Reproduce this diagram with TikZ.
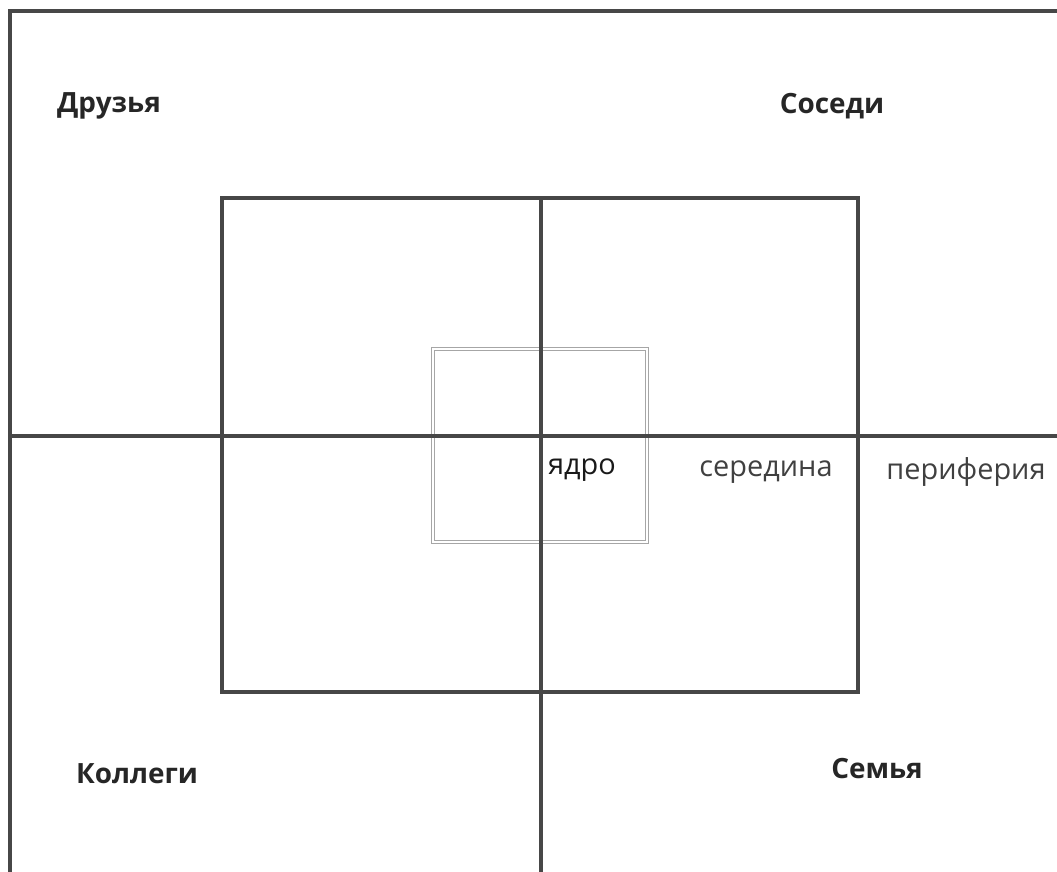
\documentclass[tikz,border=0pt]{standalone}
\usepackage{fontspec}
\setmainfont{Open Sans}
\begin{document}
\begin{tikzpicture}[x=1bp, y=-1bp,
    axis/.style={draw=black!72, line width=3.2bp},
    core/.style={draw=black!35, line width=0.9bp, double=white, double distance=2bp},
    group/.style={font=\fontsize{28}{32}\selectfont\bfseries, text=black!85},
    zone/.style={font=\fontsize{29}{33}\selectfont, text=black!75}
]
\useasboundingbox (0,0) rectangle (1057,872);

% outer frame (top and left)
\draw[axis] (1057,11) -- (10,11) -- (10,872);

% middle rectangle
\draw[axis] (222,198) rectangle (858,692);

% core square
\draw[core] (433,349) rectangle (647,542);

% axes
\draw[axis] (10,436) -- (1057,436);
\draw[axis] (541,198) -- (541,872);

% groups
\node[group] (friends) at (109,106) {Друзья};
\node[group] (neighbours) at (832,106) {Соседи};
\node[group] (colleagues) at (137,774) {Коллеги};
\node[group] (family) at (877,769) {Семья};

% zones
\node[zone, text=black!90] (core) at (582,470) {ядро};
\node[zone] (middle) at (766,472) {середина};
\node[zone] (periphery) at (966,472) {периферия};

\end{tikzpicture}
\end{document}
